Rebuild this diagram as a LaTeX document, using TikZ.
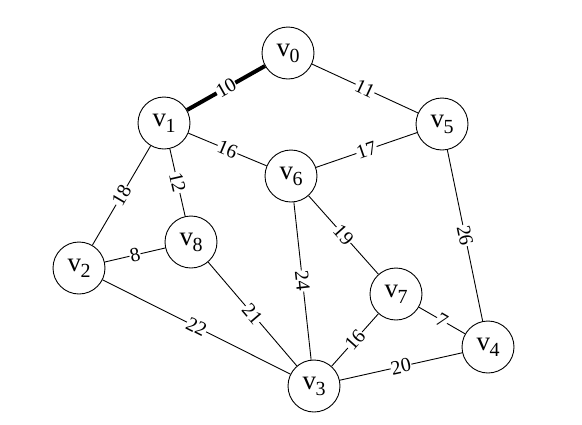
\documentclass[tikz,border=0pt]{standalone}
\usepackage{fontspec}
\setmainfont{Liberation Serif}
\newcommand\vlab[1]{v\kern-0.5pt\raisebox{-6pt}{\fontsize{20}{20}\selectfont #1}}
\begin{document}
\begin{tikzpicture}[x=1pt,y=-1pt,
 vtx/.style={draw,circle,minimum size=52pt,inner sep=0pt,fill=white,line width=0.9pt,font=\fontsize{27}{27}\selectfont},
 edge/.style={line width=0.9pt},
 heavy/.style={line width=4pt},
 wt/.style={sloped,midway,fill=white,inner sep=0.6pt,font=\fontsize{20}{20}\selectfont}]
\useasboundingbox (0,0) rectangle (582,424);
\node[vtx] (v0) at (288,53) {\vlab{0}};
\node[vtx] (v1) at (164,123) {\vlab{1}};
\node[vtx] (v5) at (442,124) {\vlab{5}};
\node[vtx] (v6) at (291,176) {\vlab{6}};
\node[vtx] (v2) at (79,268) {\vlab{2}};
\node[vtx] (v8) at (191,242) {\vlab{8}};
\node[vtx] (v7) at (396,294) {\vlab{7}};
\node[vtx] (v4) at (488,347) {\vlab{4}};
\node[vtx] (v3) at (314,386) {\vlab{3}};
\draw[heavy] (v1) -- node[wt] {10} (v0);
\draw[edge] (v0) -- node[wt] {11} (v5);
\draw[edge] (v1) -- node[wt] {16} (v6);
\draw[edge] (v6) -- node[wt] {17} (v5);
\draw[edge] (v1) -- node[wt] {12} (v8);
\draw[edge] (v2) -- node[wt] {18} (v1);
\draw[edge] (v2) -- node[wt] {8} (v8);
\draw[edge] (v2) -- node[wt] {22} (v3);
\draw[edge] (v8) -- node[wt] {21} (v3);
\draw[edge] (v6) -- node[wt] {24} (v3);
\draw[edge] (v6) -- node[wt] {19} (v7);
\draw[edge] (v5) -- node[wt] {26} (v4);
\draw[edge] (v7) -- node[wt] {7} (v4);
\draw[edge] (v3) -- node[wt] {16} (v7);
\draw[edge] (v3) -- node[wt] {20} (v4);
\end{tikzpicture}
\end{document}
